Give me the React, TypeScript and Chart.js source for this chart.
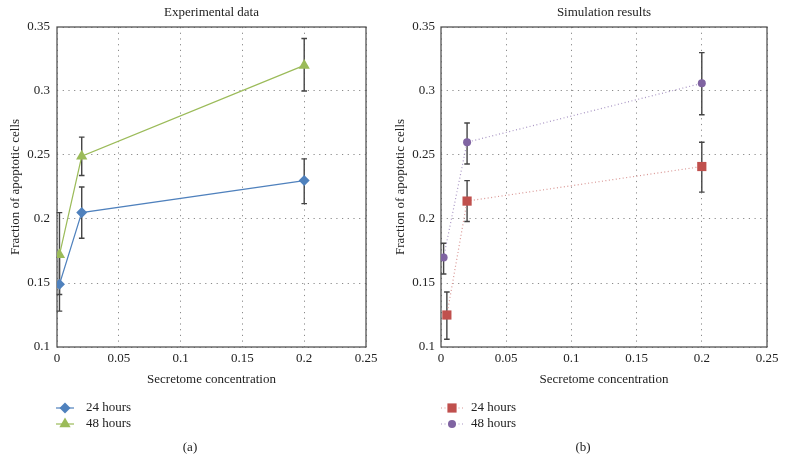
import React, { useEffect, useRef } from 'react';
import { Chart, registerables } from 'chart.js';
import { drawPoint } from 'chart.js/helpers';
Chart.register(...registerables);

const FONT = '"Liberation Serif", "DejaVu Serif", serif';
Chart.defaults.font.family = FONT;

const xTickLabels = ['0', '0.05', '0.1', '0.15', '0.2', '0.25'];
const yTickLabels = ['0.1', '0.15', '0.2', '0.25', '0.3', '0.35'];
const seriesLabels = ['24 hours', '48 hours'];

// Experimental data
const expX24 = [0.002, 0.02, 0.2];
const exp24 = [0.149, 0.205, 0.23];
const exp24Low = [0.128, 0.185, 0.212];
const exp24High = [0.17, 0.225, 0.247];
const expX48 = [0.002, 0.02, 0.2];
const exp48 = [0.172, 0.249, 0.32];
const exp48Low = [0.141, 0.234, 0.3];
const exp48High = [0.205, 0.264, 0.341];

// Simulation results
const simX24 = [0.0045, 0.02, 0.2];
const sim24 = [0.125, 0.214, 0.241];
const sim24Low = [0.106, 0.198, 0.221];
const sim24High = [0.143, 0.23, 0.26];
const simX48 = [0.002, 0.02, 0.2];
const sim48 = [0.17, 0.26, 0.306];
const sim48Low = [0.157, 0.243, 0.2815];
const sim48High = [0.181, 0.275, 0.33];

type Series = {
  label: string; x: number[]; y: number[]; low: number[]; high: number[];
  color: string; lineColor: string; dash: number[]; lineWidth: number;
  pointStyle: any; radius: number;
};

type PanelCfg = {
  title: string; sub: string; series: Series[];
  yWidth: number; padRight: number; yTitlePad: number; yTickPad: number;
  legendX0: number; legendX1: number; legendText: number;
};

const panels: PanelCfg[] = [
  {
    title: 'Experimental data', sub: '(a)',
    yWidth: 57, padRight: 27, yTitlePad: 8, yTickPad: 7,
    legendX0: 56, legendX1: 74, legendText: 86,
    series: [
      { label: seriesLabels[0], x: expX24, y: exp24, low: exp24Low, high: exp24High,
        color: '#4F81BD', lineColor: '#4F81BD', dash: [], lineWidth: 1.2, pointStyle: 'rectRot', radius: 5.5 },
      { label: seriesLabels[1], x: expX48, y: exp48, low: exp48Low, high: exp48High,
        color: '#9BBB59', lineColor: '#9BBB59', dash: [], lineWidth: 1.2, pointStyle: 'triangle', radius: 6.5 },
    ],
  },
  {
    title: 'Simulation results', sub: '(b)',
    yWidth: 48, padRight: 19, yTitlePad: 0, yTickPad: 6,
    legendX0: 441, legendX1: 463, legendText: 471,
    series: [
      { label: seriesLabels[0], x: simX24, y: sim24, low: sim24Low, high: sim24High,
        color: '#C0504D', lineColor: '#D99694', dash: [1, 2.5], lineWidth: 1.2, pointStyle: 'rect', radius: 6.5 },
      { label: seriesLabels[1], x: simX48, y: sim48, low: sim48Low, high: sim48High,
        color: '#8064A2', lineColor: '#A996C4', dash: [1, 2.5], lineWidth: 1.2, pointStyle: 'circle', radius: 4 },
    ],
  },
];

function Panel({ cfg, left }: { cfg: PanelCfg; left: number }) {
  const ref = useRef<HTMLCanvasElement>(null);
  useEffect(() => {
    const decor = {
      id: 'decor',
      beforeDatasetsDraw(chart: any) {
        const { ctx, chartArea: ca, scales } = chart;
        ctx.save();
        ctx.strokeStyle = '#555';
        ctx.lineWidth = 1.3;
        ctx.setLineDash([]);
        ctx.strokeRect(ca.left, ca.top, ca.right - ca.left, ca.bottom - ca.top);
        // error bars
        ctx.strokeStyle = '#444';
        ctx.lineWidth = 1.4;
        cfg.series.forEach((s) => {
          s.x.forEach((xv, i) => {
            const px = scales.x.getPixelForValue(xv);
            const y0 = scales.y.getPixelForValue(s.low[i]);
            const y1 = scales.y.getPixelForValue(s.high[i]);
            ctx.beginPath();
            ctx.moveTo(px, y0); ctx.lineTo(px, y1);
            ctx.moveTo(px - 2.8, y0); ctx.lineTo(px + 2.8, y0);
            ctx.moveTo(px - 2.8, y1); ctx.lineTo(px + 2.8, y1);
            ctx.stroke();
          });
        });
        ctx.restore();
      },
      afterDraw(chart: any) {
        const { ctx, chartArea: ca } = chart;
        ctx.save();
        ctx.fillStyle = '#222';
        ctx.font = `13px ${FONT}`;
        ctx.textAlign = 'center';
        ctx.textBaseline = 'middle';
        ctx.fillText(cfg.title, (ca.left + ca.right) / 2, 13);
        ctx.fillText(cfg.sub, 190, 448);
        // legend
        const lx0 = cfg.legendX0 - left;
        const lx1 = cfg.legendX1 - left;
        cfg.series.forEach((s, i) => {
          const y = 408 + i * 16;
          ctx.strokeStyle = s.lineColor;
          ctx.lineWidth = s.lineWidth;
          ctx.setLineDash(s.dash);
          ctx.beginPath();
          ctx.moveTo(lx0, y); ctx.lineTo(lx1, y);
          ctx.stroke();
          ctx.setLineDash([]);
          ctx.fillStyle = s.color;
          ctx.strokeStyle = s.color;
          drawPoint(ctx, { pointStyle: s.pointStyle, radius: s.radius, rotation: 0, borderWidth: 0 } as any,
            (lx0 + lx1) / 2, y);
          ctx.fillStyle = '#222';
          ctx.textAlign = 'left';
          ctx.fillText(s.label, cfg.legendText - left, y);
        });
        ctx.restore();
      },
    };

    const chart = new Chart(ref.current!, {
      type: 'line',
      data: {
        datasets: cfg.series.map((s) => ({
          label: s.label,
          data: s.x.map((x, i) => ({ x, y: s.y[i] })),
          borderColor: s.lineColor,
          borderWidth: s.lineWidth,
          borderDash: s.dash,
          backgroundColor: s.color,
          pointBackgroundColor: s.color,
          pointBorderColor: s.color,
          pointBorderWidth: 0,
          pointStyle: s.pointStyle,
          pointRadius: s.radius,
          tension: 0,
          fill: false,
        })),
      },
      options: {
        responsive: false,
        animation: false,
        events: [],
        layout: { padding: { left: 0, right: cfg.padRight, top: 27, bottom: 83 } },
        plugins: { legend: { display: false }, title: { display: false }, tooltip: { enabled: false } },
        scales: {
          x: {
            type: 'linear', min: 0, max: 0.25,
            ticks: {
              stepSize: 0.05, padding: 4, color: '#222', font: { size: 13 }, maxRotation: 0, autoSkip: false,
              callback: (_v: any, i: number) => xTickLabels[i],
            },
            grid: { color: '#8a8a8a', lineWidth: 1, drawTicks: false },
            border: { display: false, dash: [1.2, 4.5] },
            title: { display: true, text: 'Secretome concentration', color: '#222', font: { size: 13 }, padding: { top: 4, bottom: 4 } },
            afterFit: (s: any) => { s.height = 44; },
          },
          y: {
            type: 'linear', min: 0.1, max: 0.35,
            ticks: {
              stepSize: 0.05, padding: cfg.yTickPad, color: '#222', font: { size: 13 },
              callback: (_v: any, i: number) => yTickLabels[i],
            },
            grid: { color: '#8a8a8a', lineWidth: 1, drawTicks: false },
            border: { display: false, dash: [1.2, 4.5] },
            title: { display: true, text: 'Fraction of apoptotic cells', color: '#222', font: { size: 13 }, padding: { top: cfg.yTitlePad, bottom: 0 } },
            afterFit: (s: any) => { s.width = cfg.yWidth; },
          },
        },
      } as any,
      plugins: [decor],
    });
    return () => chart.destroy();
  }, [cfg, left]);
  return (
    <canvas ref={ref} width={393} height={474}
      style={{ position: 'absolute', left, top: 0, width: 393, height: 474 }} />
  );
}

export default function App() {
  return (
    <div style={{ position: 'fixed', left: 0, top: 0, width: 786, height: 474, background: '#fff' }}>
      <Panel cfg={panels[0]} left={0} />
      <Panel cfg={panels[1]} left={393} />
    </div>
  );
}
